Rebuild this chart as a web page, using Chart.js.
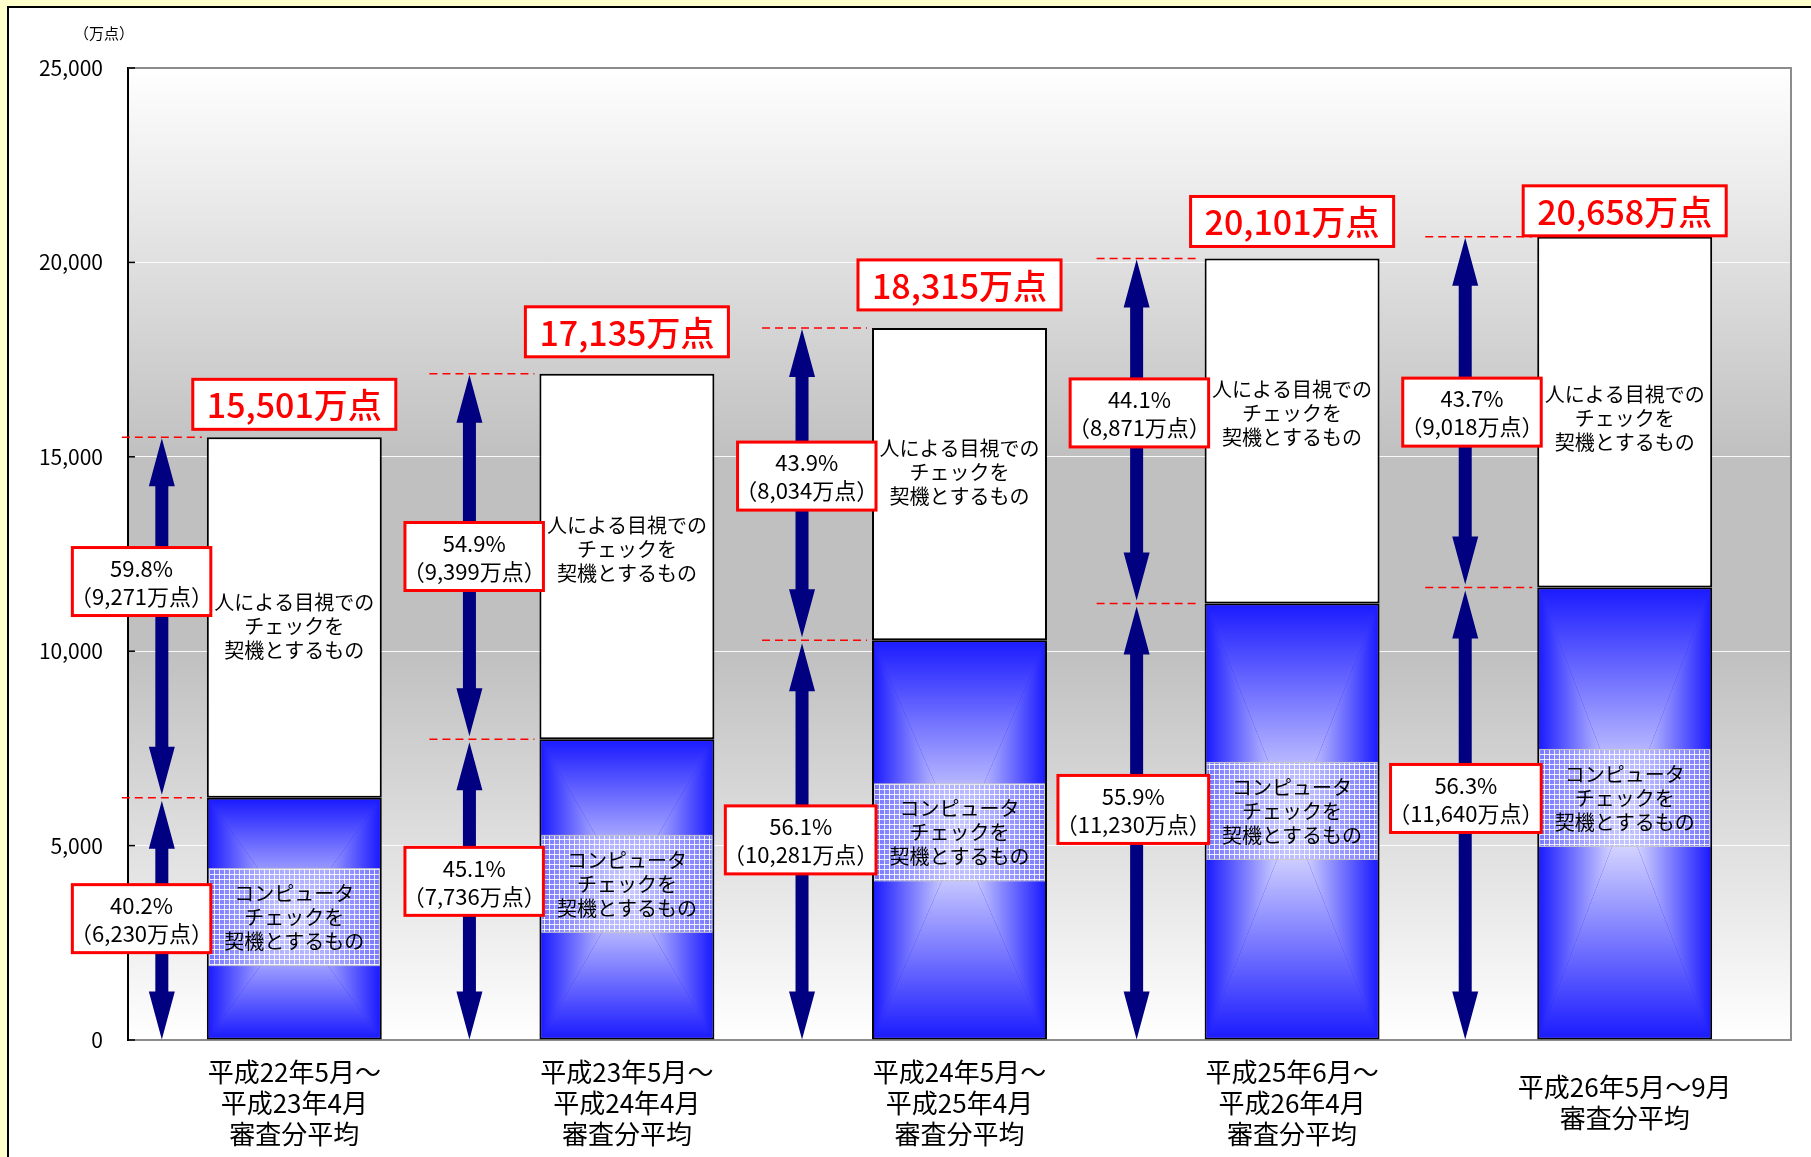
<!DOCTYPE html>
<html lang="ja">
<head>
<meta charset="utf-8">
<title>審査分平均</title>
<script src="https://cdn.jsdelivr.net/npm/chart.js@4.4.1/dist/chart.umd.min.js"></script>
<style>
  html, body { margin: 0; padding: 0; background: #ffffcc; }
  #wrap { width: 1811px; height: 1157px; }
</style>
</head>
<body>
<div id="wrap"><canvas id="chart"></canvas></div>
<script>
// data (万点)
const categories = [
  ['平成22年5月～', '平成23年4月', '審査分平均'],
  ['平成23年5月～', '平成24年4月', '審査分平均'],
  ['平成24年5月～', '平成25年4月', '審査分平均'],
  ['平成25年6月～', '平成26年4月', '審査分平均'],
  ['平成26年5月～9月', '審査分平均'],
];
const computerCheck = [6230, 7736, 10281, 11230, 11640];
const humanCheck = [9271, 9399, 8034, 8871, 9018];
const totals = [15501, 17135, 18315, 20101, 20658];
const computerPct = [40.2, 45.1, 56.1, 55.9, 56.3];
const humanPct = [59.8, 54.9, 43.9, 44.1, 43.7];
const yTickStep = 5000;
const yMax = 25000;
const unitLabel = '（万点）';
const humanLabel = ['人による目視での', 'チェックを', '契機とするもの'];
const computerLabel = ['コンピュータ', 'チェックを', '契機とするもの'];

// look & placement
const FONT = '"Noto Sans CJK JP", "Noto Sans", sans-serif';
const NAVY = '#000080';
const RED = '#ff0000';
const arrowGap = [45, 70, 70, 68, 72];       // arrow distance left of each bar
const totalGap = [8, 17, 18, 12, 1];          // total box gap above bar
const upperNudge = [-36, 0, -8, -18, 0];      // pct box offsets
const lowerNudge = [0, -8, 0, -12, -15];
const humanNudge = [9, -7, -12, -18, 6];
const gridNudge = [-2, -6, -8, -11, -16];
const PCT_SIZE = 22;

const fmt = v => v.toLocaleString('en-US');

function gridPattern(ctx) {
  const c = document.createElement('canvas');
  c.width = 5; c.height = 5;
  const p = c.getContext('2d');
  p.fillStyle = 'rgba(180,180,255,0.6)';
  p.fillRect(0, 0, 5, 5);
  p.fillStyle = 'rgba(255,255,255,0.85)';
  p.fillRect(4, 0, 1, 5);
  p.fillRect(0, 4, 5, 1);
  return ctx.createPattern(c, 'repeat');
}

// rectangular "from centre" gradient: four triangles meeting in the middle
function paintBlue(ctx, l, t, r, b) {
  const cx = (l + r) / 2, cy = (t + b) / 2;
  const edge = '#1c1cff', mid = '#f2f2ff';
  const tri = (p1, p2, x0, y0) => {
    const g = ctx.createLinearGradient(x0, y0, cx, cy);
    g.addColorStop(0, edge);
    g.addColorStop(1, mid);
    ctx.fillStyle = g;
    ctx.beginPath();
    ctx.moveTo(p1[0], p1[1]);
    ctx.lineTo(p2[0], p2[1]);
    ctx.lineTo(cx, cy);
    ctx.closePath();
    ctx.fill();
  };
  tri([l, t], [r, t], cx, t);
  tri([l, b], [r, b], cx, b);
  tri([l, t], [l, b], l, cy);
  tri([r, t], [r, b], r, cy);
}

function lines(ctx, rows, cx, cy, lh) {
  ctx.textAlign = 'center';
  ctx.textBaseline = 'middle';
  const y0 = cy - (rows.length - 1) * lh / 2;
  rows.forEach((s, k) => ctx.fillText(s, cx, y0 + k * lh));
}

// full-width brackets carry blank space on their outer side; leave it out of the box width
const CUT = 0.42;
function tightWidth(ctx, s) {
  const w = ctx.measureText(s).width;
  return s.startsWith('（') && s.endsWith('）') ? w - 2 * CUT * PCT_SIZE : w;
}

function pctBox(ctx, rows, right, cy) {
  ctx.font = `${PCT_SIZE}px ${FONT}`;
  const w = Math.max(...rows.map(s => tightWidth(ctx, s))) + 14;
  const h = 68;
  const l = right - w, t = cy - h / 2;
  ctx.fillStyle = '#fff';
  ctx.fillRect(l, t, w, h);
  ctx.strokeStyle = RED;
  ctx.lineWidth = 3;
  ctx.strokeRect(l, t, w, h);
  ctx.fillStyle = '#000';
  ctx.textAlign = 'center';
  ctx.textBaseline = 'middle';
  ctx.fillText(rows[0], l + w / 2, cy - 13);
  ctx.fillText(rows[1], l + w / 2, cy + 15);
}

function arrow(ctx, x, y1, y2) {
  const hl = 48, hw = 13, sw = 6.5;
  ctx.fillStyle = NAVY;
  ctx.beginPath();
  ctx.moveTo(x, y1);
  ctx.lineTo(x + hw, y1 + hl);
  ctx.lineTo(x + sw, y1 + hl);
  ctx.lineTo(x + sw, y2 - hl);
  ctx.lineTo(x + hw, y2 - hl);
  ctx.lineTo(x, y2);
  ctx.lineTo(x - hw, y2 - hl);
  ctx.lineTo(x - sw, y2 - hl);
  ctx.lineTo(x - sw, y1 + hl);
  ctx.lineTo(x - hw, y1 + hl);
  ctx.closePath();
  ctx.fill();
}

const decor = {
  id: 'decor',
  beforeDraw(chart) {
    const { ctx, chartArea: a, width, height } = chart;
    ctx.save();
    ctx.fillStyle = '#ffffcc';
    ctx.fillRect(0, 0, width, height);
    ctx.fillStyle = '#fff';
    ctx.fillRect(8, 7, width - 8, height - 7);
    ctx.strokeStyle = '#000';
    ctx.lineWidth = 2;
    ctx.beginPath();
    ctx.moveTo(8, height);
    ctx.lineTo(8, 7);
    ctx.lineTo(width, 7);
    ctx.stroke();

    const g = ctx.createLinearGradient(0, a.top, 0, a.bottom);
    g.addColorStop(0, '#ffffff');
    g.addColorStop(0.4, '#c0c0c0');
    g.addColorStop(0.6, '#c0c0c0');
    g.addColorStop(1, '#ffffff');
    ctx.fillStyle = g;
    ctx.fillRect(a.left, a.top, a.right - a.left, a.bottom - a.top);

    ctx.fillStyle = '#000';
    ctx.font = `15px ${FONT}`;
    ctx.textAlign = 'left';
    ctx.textBaseline = 'middle';
    ctx.fillText(unitLabel, 74, 33);
    ctx.restore();
  },
  afterDraw(chart) {
    const { ctx, chartArea: a } = chart;
    const ys = chart.scales.y;
    const low = chart.getDatasetMeta(0).data;
    const high = chart.getDatasetMeta(1).data;
    ctx.save();

    // top / right frame and inner ticks
    ctx.strokeStyle = '#8c8c8c';
    ctx.lineWidth = 2;
    ctx.beginPath();
    ctx.moveTo(a.left, a.top);
    ctx.lineTo(a.right, a.top);
    ctx.lineTo(a.right, a.bottom);
    ctx.stroke();
    ctx.strokeStyle = '#000';
    ctx.lineWidth = 1.5;
    for (let v = 0; v <= yMax; v += yTickStep) {
      const py = ys.getPixelForValue(v);
      ctx.beginPath();
      ctx.moveTo(a.left, py);
      ctx.lineTo(a.left + 7, py);
      ctx.stroke();
    }

    const pattern = gridPattern(ctx);

    low.forEach((bar, i) => {
      const l = bar.x - bar.width / 2, r = bar.x + bar.width / 2;
      const zeroY = bar.base, splitY = bar.y, totalY = high[i].y;

      // blue segment shading
      paintBlue(ctx, l + 2, splitY + 2, r - 2, zeroY - 2);

      // checkered label band
      const gcy = (splitY + zeroY) / 2 + gridNudge[i];
      ctx.fillStyle = pattern;
      ctx.fillRect(l + 2, gcy - 48, r - l - 4, 97);
      ctx.strokeStyle = 'rgba(200,200,200,0.9)';
      ctx.lineWidth = 1;
      ctx.strokeRect(l + 2.5, gcy - 48, r - l - 5, 97);
      ctx.fillStyle = '#000';
      ctx.font = `20px ${FONT}`;
      lines(ctx, computerLabel, bar.x, gcy + 1, 24);
      lines(ctx, humanLabel, bar.x, (totalY + splitY) / 2 + humanNudge[i], 24);

      // dashed guides
      const ax = l - arrowGap[i];
      ctx.strokeStyle = RED;
      ctx.lineWidth = 1.5;
      ctx.setLineDash([8, 5]);
      [totalY, splitY].forEach(py => {
        ctx.beginPath();
        ctx.moveTo(ax - 40, py);
        ctx.lineTo(l - 5, py);
        ctx.stroke();
      });
      ctx.setLineDash([]);

      // arrows
      arrow(ctx, ax, totalY + 1, splitY - 3);
      arrow(ctx, ax, splitY + 3, zeroY);

      // percentage boxes
      pctBox(ctx, [`${humanPct[i].toFixed(1)}%`, `（${fmt(humanCheck[i])}万点）`],
        l + 4, (totalY + splitY) / 2 + upperNudge[i]);
      pctBox(ctx, [`${computerPct[i].toFixed(1)}%`, `（${fmt(computerCheck[i])}万点）`],
        l + 4, (splitY + zeroY) / 2 + lowerNudge[i]);

      // total box
      const txt = `${fmt(totals[i])}万点`;
      ctx.font = `500 34px ${FONT}`;
      const w = ctx.measureText(txt).width + 28;
      const h = 50;
      const bt = totalY - totalGap[i] - h;
      ctx.fillStyle = '#fff';
      ctx.fillRect(bar.x - w / 2, bt, w, h);
      ctx.strokeStyle = RED;
      ctx.lineWidth = 3;
      ctx.strokeRect(bar.x - w / 2, bt, w, h);
      ctx.fillStyle = RED;
      ctx.textAlign = 'center';
      ctx.textBaseline = 'middle';
      ctx.fillText(txt, bar.x, bt + h / 2 + 1);
    });
    ctx.restore();
  }
};

new Chart(document.getElementById('chart'), {
  type: 'bar',
  data: {
    labels: categories,
    datasets: [
      {
        label: 'コンピュータチェックを契機とするもの',
        data: computerCheck,
        backgroundColor: '#1c1cff',
        borderColor: '#000',
        borderWidth: 2,
        borderSkipped: false,
        categoryPercentage: 1,
        barPercentage: 0.526,
      },
      {
        label: '人による目視でのチェックを契機とするもの',
        data: humanCheck,
        backgroundColor: '#ffffff',
        borderColor: '#000',
        borderWidth: 2,
        borderSkipped: false,
        categoryPercentage: 1,
        barPercentage: 0.526,
      },
    ],
  },
  options: {
    responsive: true,
    maintainAspectRatio: false,
    animation: false,
    layout: { padding: { left: 0, right: 20, top: 68, bottom: 0 } },
    plugins: {
      legend: { display: false },
      tooltip: { enabled: false },
    },
    scales: {
      x: {
        stacked: true,
        grid: { display: false, drawTicks: false },
        border: { color: '#8c8c8c', width: 2 },
        ticks: {
          color: '#000',
          font: { family: FONT, size: 26, lineHeight: 1.19 },
          padding: 32,
          crossAlign: 'center',
          maxRotation: 0,
          autoSkip: false,
        },
        afterFit: s => { s.height = 117; },
      },
      y: {
        stacked: true,
        min: 0,
        max: yMax,
        grid: { color: 'rgba(255,255,255,0.9)', lineWidth: 1, drawTicks: false },
        border: { color: '#000', width: 2 },
        ticks: {
          stepSize: yTickStep,
          color: '#000',
          font: { family: FONT, size: 21 },
          padding: 25,
          callback: v => fmt(v),
        },
        afterFit: s => { s.width = 128; },
      },
    },
  },
  plugins: [decor],
});
</script>
</body>
</html>
